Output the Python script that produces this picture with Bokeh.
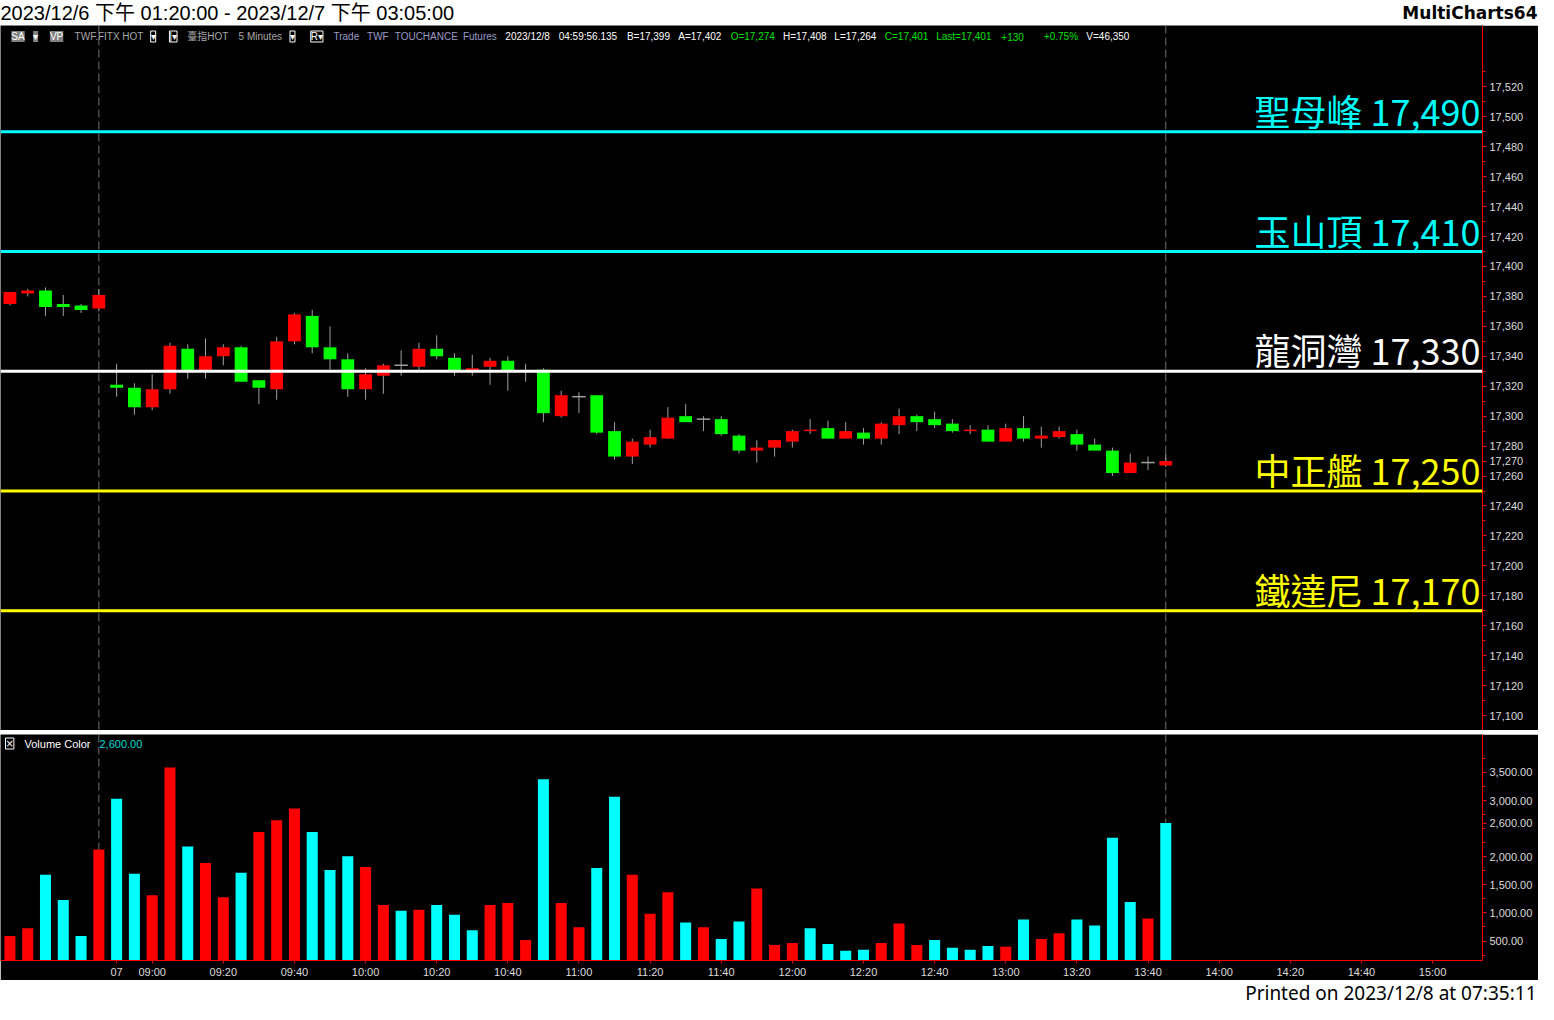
import numpy as np
from bokeh.plotting import figure
from bokeh.models import (Range1d, Span, Label, FixedTicker, NumeralTickFormatter)
from bokeh.layouts import column
from bokeh.embed import file_html
from bokeh.resources import INLINE
from bokeh.core.properties import value

# ---------------- data ----------------
bar_idx = list(range(66))
opens = [17375, 17382, 17384, 17375, 17374, 17372, 17321, 17319, 17306, 17318,
         17345, 17330, 17340, 17346, 17324, 17318, 17350, 17367, 17346, 17338,
         17318, 17327, 17334, 17333, 17345, 17339, 17330, 17333, 17337, 17330,
         17331, 17300, 17313, 17314, 17290, 17273, 17281, 17285, 17300, 17298,
         17298, 17287, 17277, 17279, 17283, 17290, 17292, 17285, 17289, 17285,
         17294, 17300, 17298, 17295, 17290, 17291, 17283, 17292, 17285, 17286,
         17288, 17281, 17277, 17262, 17269, 17267]
highs = [17383, 17385, 17386, 17381, 17375, 17385, 17335, 17322, 17328, 17349,
         17348, 17352, 17348, 17347, 17324, 17353, 17369, 17371, 17360, 17342,
         17332, 17335, 17344, 17349, 17354, 17342, 17341, 17339, 17340, 17335,
         17332, 17317, 17316, 17314, 17296, 17285, 17291, 17306, 17308, 17300,
         17300, 17288, 17284, 17284, 17291, 17298, 17297, 17296, 17292, 17296,
         17305, 17301, 17303, 17298, 17294, 17294, 17295, 17300, 17293, 17293,
         17291, 17285, 17279, 17275, 17273, 17275]
lows = [17374, 17380, 17367, 17367, 17369, 17370, 17313, 17301, 17304, 17315,
        17325, 17325, 17334, 17323, 17308, 17311, 17348, 17342, 17331, 17313,
        17311, 17315, 17327, 17330, 17338, 17327, 17327, 17321, 17317, 17323,
        17296, 17299, 17302, 17288, 17271, 17268, 17279, 17285, 17296, 17290,
        17287, 17275, 17269, 17273, 17279, 17288, 17285, 17285, 17281, 17281,
        17288, 17290, 17292, 17289, 17288, 17283, 17283, 17283, 17279, 17285,
        17277, 17277, 17260, 17262, 17264, 17266]
closes = [17383, 17384, 17373, 17373, 17371, 17381, 17319, 17306, 17318, 17347,
          17330, 17340, 17346, 17323, 17319, 17350, 17368, 17346, 17338, 17318,
          17328, 17334, 17334, 17345, 17340, 17330, 17332, 17337, 17330, 17330,
          17302, 17314, 17313, 17289, 17273, 17283, 17286, 17299, 17296, 17298,
          17288, 17277, 17279, 17284, 17290, 17291, 17285, 17290, 17285, 17295,
          17300, 17296, 17294, 17290, 17291, 17283, 17292, 17285, 17287, 17290,
          17281, 17277, 17262, 17269, 17269, 17270]
volumes = [587, 725, 1679, 1228, 587, 2130, 3032, 1697, 1315, 3587,
           2182, 1887, 1280, 1714, 2442, 2650, 2858, 2442, 1766, 2009,
           1818, 1142, 1038, 1055, 1142, 968, 691, 1142, 1176, 517,
           3379, 1176, 743, 1800, 3066, 1679, 986, 1367, 829, 743,
           535, 847, 1436, 431, 465, 725, 448, 327, 344, 465,
           812, 431, 517, 379, 344, 413, 396, 881, 535, 639,
           881, 777, 2338, 1194, 899, 2600]
# 1 = red volume bar, 0 = cyan volume bar
vol_red = [1, 1, 0, 0, 0, 1, 0, 0, 1, 1,
           0, 1, 1, 0, 1, 1, 1, 0, 0, 0,
           1, 1, 0, 1, 0, 0, 0, 1, 1, 1,
           0, 1, 1, 0, 0, 1, 1, 1, 0, 1,
           0, 0, 1, 1, 1, 0, 0, 0, 0, 1,
           1, 1, 0, 0, 0, 0, 1, 0, 1, 1,
           0, 0, 0, 0, 1, 0]
session_end_idx = [5, 65]
tick_idx = [6, 8, 12, 16, 20, 24, 28, 32, 36, 40, 44, 48, 52, 56, 60, 64, 68, 72, 76, 80]
tick_labels = ["07", "09:00", "09:20", "09:40", "10:00", "10:20", "10:40", "11:00",
               "11:20", "11:40", "12:00", "12:20", "12:40", "13:00", "13:20", "13:40",
               "14:00", "14:20", "14:40", "15:00"]
price_grid = list(range(17100, 17521, 20))
price_minor = list(range(17090, 17531, 10))
vol_grid = [500, 1000, 1500, 2000, 2500, 3000, 3500]
vol_minor = [250, 500, 750, 1000, 1250, 1500, 1750, 2000, 2250, 2500, 2750, 3000, 3250, 3500, 3750]
level_names = ["聖母峰", "玉山頂", "龍洞灣", "中正艦", "鐵達尼"]
level_values = [17490, 17410, 17330, 17250, 17170]
level_colors = ["#00ffff", "#00ffff", "#ffffff", "#ffff00", "#ffff00"]

title_text = "2023/12/6 下午 01:20:00 - 2023/12/7 下午 03:05:00"
brand_text = "MultiCharts64"
printed_text = "Printed on 2023/12/8 at 07:35:11"

# last-value markers shown on the axes (the last close / last volume)
price_ticks = sorted(set(price_grid + [closes[-1]]))
# the last-volume marker hides the nearby 2,500 label in the reference
vol_ticks = sorted([t for t in vol_grid if abs(t - volumes[-1]) > 200] + [volumes[-1]])

# ---------------- layout constants ----------------
W = 1538
FRAME_W = 1482
AX_W = W - FRAME_W
SX = FRAME_W / 1500.0
AXIS_TXT = "#dcdcdc"
AXIS_RED = "#ff0000"
FONT = "Liberation Sans"
HDR_H, PH, SEP_H, VH, VAX_H, FTR_H = 25, 705, 4, 226, 20, 24

x_range = Range1d(-0.53, 82.81)


def base_fig(h, xr, yr, bg="black", **kw):
    f = figure(frame_width=kw.pop("fw", FRAME_W), frame_height=h, x_range=xr, y_range=yr,
               output_backend="svg", toolbar_location=None,
               min_border_left=0, min_border_top=0, min_border_bottom=kw.pop("mbb", 0),
               min_border_right=kw.pop("mbr", AX_W),
               background_fill_color=bg, border_fill_color=bg, outline_line_color=None, **kw)
    f.grid.visible = False
    return f


def style_axis(ax):
    ax.axis_line_color = AXIS_RED
    ax.major_tick_line_color = AXIS_RED
    ax.minor_tick_line_color = AXIS_RED
    ax.major_tick_in = 0
    ax.minor_tick_in = 0
    ax.major_label_text_color = AXIS_TXT
    ax.major_label_text_font = FONT
    ax.major_label_text_font_size = "11px"

# ---------------- header ----------------
hdr = base_fig(HDR_H, Range1d(0, W), Range1d(0, HDR_H), bg="white", fw=W, mbr=0,
               x_axis_location=None, y_axis_location=None)
hdr.add_layout(Label(x=0, y=HDR_H / 2, x_units="screen", y_units="screen", text=title_text,
                     text_font="Liberation Sans, Noto Sans CJK TC", text_font_size="20px",
                     text_color="black", text_baseline="middle"))
hdr.add_layout(Label(x=W - 1, y=HDR_H / 2, x_units="screen", y_units="screen", text=brand_text,
                     text_font="DejaVu Sans", text_font_style="bold", text_font_size="17px",
                     text_color="black", text_align="right", text_baseline="middle"))
hdr.scatter([0], [0], size=0, alpha=0)

# ---------------- price pane ----------------
pp = base_fig(PH, x_range, Range1d(17090, 17561), y_axis_location="right", x_axis_location=None)

idx = np.array(bar_idx)
o = np.array(opens)
c = np.array(closes)
up = c > o
dn = c < o
dj = c == o
pp.segment(idx, highs, idx, lows, line_color="#a0a0a0", line_width=1)
pp.vbar(x=idx[up], bottom=o[up], top=c[up], width=0.72, fill_color="#ff0000", line_color=None)
pp.vbar(x=idx[dn], bottom=c[dn], top=o[dn], width=0.72, fill_color="#00ff00", line_color=None)
pp.segment(idx[dj] - 0.38, o[dj], idx[dj] + 0.38, o[dj], line_color="#a0a0a0", line_width=1.5)

for s in session_end_idx:
    pp.add_layout(Span(location=s, dimension="height", line_color="#707070",
                       line_dash="8 4", line_width=1, level="underlay"))

for v, col in zip(level_values, level_colors):
    pp.add_layout(Span(location=v, dimension="width", line_color=col, line_width=3))

level_texts = [f"{n} {v:,}" for n, v in zip(level_names, level_values)]
pp.text(x=[x_range.end - 0.12] * len(level_values), y=level_values, text=level_texts,
        text_color=level_colors, text_align="right", text_baseline="middle",
        y_offset=-22, text_font=value("Noto Sans CJK TC"), text_font_size="36px")

ya = pp.yaxis[0]
ya.ticker = FixedTicker(ticks=price_ticks, minor_ticks=price_minor)
ya.formatter = NumeralTickFormatter(format="0,0")
style_axis(ya)
ya.major_tick_out = 4
ya.minor_tick_out = 3
ya.major_label_standoff = 3

# info bar
info_items = [
    (11, "SA", "#ffffff", "#808080", None),
    (33, "▾", "#ffffff", "#808080", None),
    (50, "VP", "#ffffff", "#808080", None),
    (75, "TWF.FITX HOT", "#a8a8a8", None, None),
    (152, "▾", "#ffffff", None, "#ffffff"),
    (171, "|▾", "#ffffff", None, "#ffffff"),
    (189, "臺指HOT", "#a8a8a8", None, None),
    (241, "5 Minutes", "#a8a8a8", None, None),
    (293, "▾", "#ffffff", None, "#ffffff"),
    (314, "R▾", "#ffffff", None, "#ffffff"),
    (337, "Trade", "#9c9cc8", None, None),
    (371, "TWF", "#9c9cc8", None, None),
    (399, "TOUCHANCE", "#9c9cc8", None, None),
    (468, "Futures", "#9c9cc8", None, None),
    (511, "2023/12/8", "#ffffff", None, None),
    (565, "04:59:56.135", "#ffffff", None, None),
    (634, "B=17,399", "#ffffff", None, None),
    (686, "A=17,402", "#ffffff", None, None),
    (739, "O=17,274", "#00e000", None, None),
    (792, "H=17,408", "#ffffff", None, None),
    (844, "L=17,264", "#ffffff", None, None),
    (895, "C=17,401", "#00e000", None, None),
    (947, "Last=17,401", "#00e000", None, None),
    (1013, "+130", "#00e000", None, None),
    (1056, "+0.75%", "#00e000", None, None),
    (1099, "V=46,350", "#ffffff", None, None),
]
for xr, t, col, bg, bd in info_items:
    kw = {}
    if bg:
        kw["background_fill_color"] = bg
    if bd:
        kw["border_line_color"] = bd
    pp.add_layout(Label(x=xr * SX, y=PH - 11, x_units="screen", y_units="screen", text=t,
                        text_color=col, text_font="Liberation Sans, Noto Sans CJK TC",
                        text_font_size="10px", text_baseline="middle", **kw))

# ---------------- separator ----------------
sep = base_fig(SEP_H, Range1d(0, 1), Range1d(0, 1), bg="#c4c4c4", fw=W, mbr=0,
               x_axis_location=None, y_axis_location=None)
sep.scatter([0], [0], size=0, alpha=0)

# ---------------- volume pane ----------------
pv = base_fig(VH, x_range, Range1d(153, 4176), y_axis_location="right", mbb=VAX_H)
vv = np.array(volumes)
vr = np.array(vol_red) == 1
pv.vbar(x=idx[vr], bottom=0, top=vv[vr], width=0.62, fill_color="#ff0000", line_color=None)
pv.vbar(x=idx[~vr], bottom=0, top=vv[~vr], width=0.62, fill_color="#00ffff", line_color=None)
for s in session_end_idx:
    pv.add_layout(Span(location=s, dimension="height", line_color="#707070",
                       line_dash="8 4", line_width=1, level="underlay"))

va = pv.yaxis[0]
va.ticker = FixedTicker(ticks=vol_ticks, minor_ticks=vol_minor)
va.formatter = NumeralTickFormatter(format="0,0.00")
style_axis(va)
va.major_tick_out = 4
va.minor_tick_out = 3
va.major_label_standoff = 3

xa = pv.xaxis[0]
xa.ticker = FixedTicker(ticks=tick_idx)
xa.major_label_overrides = {t: l for t, l in zip(tick_idx, tick_labels)}
xa.major_label_text_align = "left"
style_axis(xa)
xa.minor_tick_line_color = None
xa.major_tick_out = 3
xa.major_label_standoff = 2

pv.add_layout(Label(x=5, y=VH - 9, x_units="screen", y_units="screen", text="×",
                    text_color="#ffffff", text_font="DejaVu Sans", text_font_size="10px",
                    text_baseline="middle", border_line_color="#ffffff"))
pv.add_layout(Label(x=24, y=VH - 9, x_units="screen", y_units="screen", text="Volume Color",
                    text_color="#ffffff", text_font=FONT, text_font_size="11px",
                    text_baseline="middle"))
pv.add_layout(Label(x=99, y=VH - 9, x_units="screen", y_units="screen",
                    text=f"{volumes[-1]:,.2f}", text_color="#00d8d8", text_font=FONT,
                    text_font_size="11px", text_baseline="middle"))

# ---------------- footer ----------------
ftr = base_fig(FTR_H, Range1d(0, W), Range1d(0, FTR_H), bg="white", fw=W, mbr=0,
               x_axis_location=None, y_axis_location=None)
ftr.add_layout(Label(x=W - 2, y=FTR_H / 2, x_units="screen", y_units="screen", text=printed_text,
                     text_font="Noto Sans", text_font_size="19px", text_color="black",
                     text_align="right", text_baseline="middle"))
ftr.scatter([0], [0], size=0, alpha=0)

layout = column(hdr, pp, sep, pv, ftr, spacing=0)
open("out.html", "w").write(file_html(layout, INLINE))
